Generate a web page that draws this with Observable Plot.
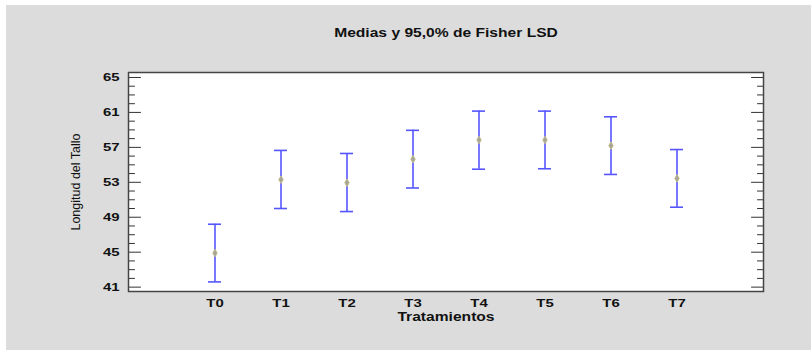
<!DOCTYPE html>
<html>
<head>
<meta charset="utf-8">
<script src="https://cdn.jsdelivr.net/npm/d3@7"></script>
<script src="https://cdn.jsdelivr.net/npm/@observablehq/plot@0.6"></script>
<style>
  html, body { margin: 0; padding: 0; background: #fff; }
  #chart { position: absolute; left: 6px; top: 5px; }
</style>
</head>
<body>
<div id="chart"></div>
<script>
// Treatment means with 95% Fisher LSD intervals
const treatments = ["T0", "T1", "T2", "T3", "T4", "T5", "T6", "T7"];
const means = [44.9, 53.3, 52.95, 55.65, 57.85, 57.85, 57.2, 53.45];
const lower = [41.6, 50.0, 49.65, 52.35, 54.5, 54.55, 53.9, 50.15];
const upper = [48.2, 56.65, 56.3, 58.95, 61.15, 61.15, 60.5, 56.75];

const majorTicks = [41, 45, 49, 53, 57, 61, 65];
const minorTicks = d3.range(41, 66).filter(v => !majorTicks.includes(v));

const title = "Medias y 95,0% de Fisher LSD";
const xTitle = "Tratamientos";
const yTitle = "Longitud del Tallo";

const rows = treatments.map((t, i) => ({t, mean: means[i], lo: lower[i], hi: upper[i]}));

// Straight tick segment used for the inward-facing frame ticks
const tickShape = {draw(context, l) { context.moveTo(0, 0); context.lineTo(0, -l); }};
const frameTicks = (values, side, length) => Plot.vector(values, {
  y: d => d, frameAnchor: side, length, rotate: side === "left" ? 90 : -90,
  anchor: "start", shape: tickShape, stroke: "#333", strokeWidth: 1
});

const barColor = "#5555ff";

const chart = Plot.plot({
  width: 805,
  height: 345,
  marginLeft: 122,
  marginRight: 48,
  marginTop: 67,
  marginBottom: 59,
  style: {
    background: "#dcdcdc",
    fontFamily: "'Liberation Sans', Arial, sans-serif",
    fontSize: "12px",
    color: "#111"
  },
  x: {type: "band", domain: treatments, paddingInner: 0.805, paddingOuter: 1.16, align: 0.5, axis: null},
  y: {domain: [40.5, 65.57], axis: null},
  marks: [
    Plot.frame({fill: "white", stroke: null}),
    frameTicks(minorTicks, "left", 6),
    frameTicks(majorTicks, "left", 12),
    frameTicks(minorTicks, "right", 6),
    frameTicks(majorTicks, "right", 12),
    Plot.axisY({ticks: majorTicks, tickSize: 0, tickPadding: 9, fontWeight: "bold", fontSize: 11.5, label: null}),
    Plot.axisX({tickSize: 0, tickPadding: 7, fontWeight: "bold", fontSize: 11.5, label: null}),
    Plot.ruleX(rows, {x: "t", y1: "lo", y2: "hi", stroke: barColor, strokeWidth: 1.6}),
    Plot.tickY(rows, {x: "t", y: "lo", stroke: barColor, strokeWidth: 1.6}),
    Plot.tickY(rows, {x: "t", y: "hi", stroke: barColor, strokeWidth: 1.6}),
    Plot.dot(rows, {x: "t", y: "mean", symbol: "diamond", r: 2.3, fill: "#a4a49a", stroke: "#c4bc88", strokeWidth: 1}),
    Plot.frame({stroke: "#444", strokeWidth: 1.5}),
    Plot.text([title], {text: d => d, frameAnchor: "top", dy: -44, fontWeight: "bold", fontSize: 12}),
    Plot.text([xTitle], {text: d => d, frameAnchor: "bottom", dy: 29, fontWeight: "bold", fontSize: 12}),
    Plot.text([yTitle], {text: d => d, frameAnchor: "left", textAnchor: "middle", dx: -53, rotate: -90, fontSize: 12.5})
  ]
});

document.getElementById("chart").append(chart);

// Horizontal lettering is set slightly expanded (the rotated axis title is left as is)
chart.querySelectorAll("text").forEach(el => {
  if ((el.getAttribute("transform") || "").includes("rotate")) return;
  const w = el.getComputedTextLength();
  if (w > 0) {
    el.setAttribute("textLength", (w * 1.3).toFixed(1));
    el.setAttribute("lengthAdjust", "spacingAndGlyphs");
  }
});
</script>
</body>
</html>
